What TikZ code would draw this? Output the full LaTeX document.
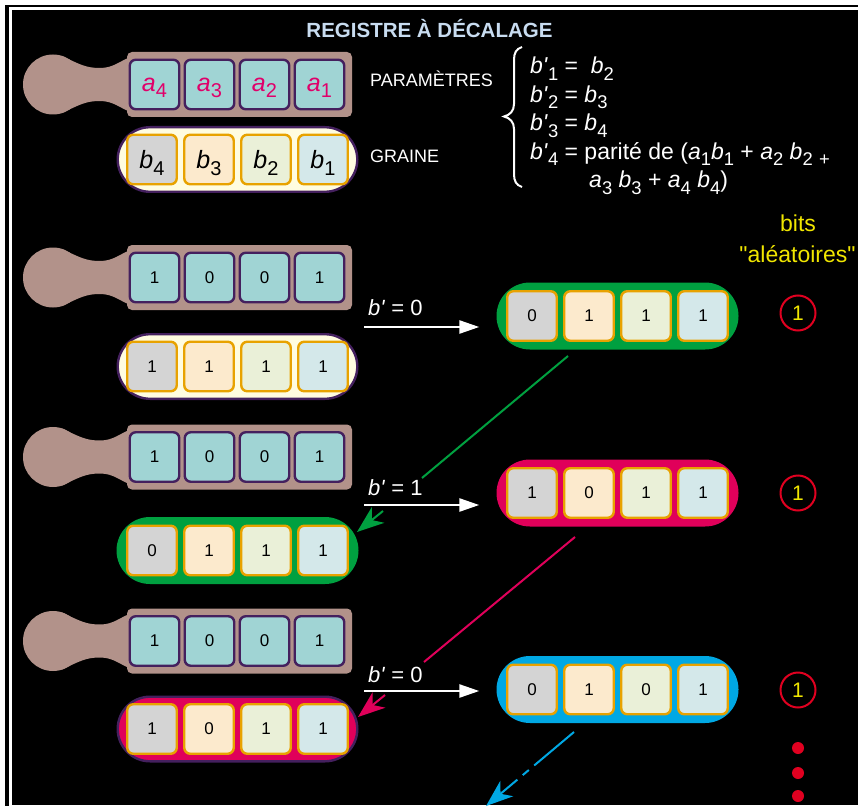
\documentclass[tikz,border=0pt]{standalone}
\usepackage{fontspec}
\newfontfamily\lsans{Liberation Sans}
\usetikzlibrary{arrows.meta}

\definecolor{dpurple}{HTML}{44205E}
\definecolor{tealc}{HTML}{A0D4D4}
\definecolor{brownp}{HTML}{B2928A}
\definecolor{cream}{HTML}{FFFCE0}
\definecolor{cgray}{HTML}{D4D4D4}
\definecolor{cpeach}{HTML}{FCEACD}
\definecolor{cgreen}{HTML}{EAF0D8}
\definecolor{cblue}{HTML}{D4E8EA}
\definecolor{orng}{HTML}{E8A200}
\definecolor{magen}{HTML}{E0006A}
\definecolor{pgreen}{HTML}{00A040}
\definecolor{pred}{HTML}{E0005A}
\definecolor{pblue}{HTML}{00A8E4}
\definecolor{ringred}{HTML}{E00020}
\definecolor{bityel}{HTML}{F0E600}
\definecolor{titleblue}{HTML}{C8DCF0}

\newcommand\fs[1]{\lsans\fontsize{#1}{#1}\selectfont}
% lowered, reduced index that does not change the box size
\newcommand\lo[1]{\smash{\raisebox{-0.27em}{\scalebox{0.8}{#1}}}}
\newcommand\parama[1]{{\fs{25}\color{magen}\textit{a}\lo{#1}}}
\newcommand\seedb[1]{{\fs{25}\textit{b}\lo{#1}}}

\tikzset{
  cellbase/.style={line width=2.4pt, rounded corners=6pt, minimum size=49.5pt,
    inner sep=0pt, font=\fs{17}},
  pcell/.style={cellbase, draw=dpurple, fill=tealc},
  scell/.style={cellbase, draw=orng},
  body/.style={fill=brownp, rounded corners=5pt, minimum width=225pt,
    minimum height=65pt, inner sep=0pt},
  pill/.style={rounded corners=33.5pt, minimum width=242pt, minimum height=67pt,
    inner sep=0pt},
  ringpill/.style={draw=dpurple, line width=2.4pt, rounded corners=32.3pt,
    minimum width=239.6pt, minimum height=64.6pt, inner sep=0pt},
  sidelabel/.style={text=white, font=\fs{18}, anchor=base west, inner sep=0pt},
  eqline/.style={text=white, font=\fs{23}, anchor=base west, inner sep=0pt},
  blabel/.style={text=white, font=\fs{22}, anchor=base west, inner sep=0pt},
  bittext/.style={text=bityel, font=\fs{23}, anchor=base, inner sep=0pt},
  ring/.style={circle, draw=ringred, line width=2pt, minimum size=35pt,
    inner sep=0pt, text=bityel, font=\fs{21}},
  dot/.style={circle, fill=ringred, minimum size=12pt, inner sep=0pt},
  warrow/.style={draw=white, line width=2.5pt,
    -{Triangle[length=20pt,width=13pt]}, shorten >=17pt},
  feedback/.style={line width=2pt},
  feedtip/.style={line width=2pt, -{Stealth[length=27pt,width=20pt,inset=8pt]}},
}

% parameter register: handle + body + four cells
\newcommand\paddle[6]{%
  \begin{scope}[shift={(0,#2)}]
    \fill[brownp] (53,0) circle (30pt);
    \fill[brownp] (62,-28.5) .. controls (80,-20) and (86,-16.5) .. (100,-16.5)
      .. controls (114,-16.5) and (120,-24) .. (132,-28) -- (132,28)
      .. controls (120,24) and (114,16.5) .. (100,16.5)
      .. controls (86,16.5) and (80,20) .. (62,28.5) -- cycle;
    \node[body] (#1) at (239.5,0) {};
    \node[pcell] (#1-1) at (154.5,0) {#3};
    \node[pcell] (#1-2) at (209.5,0) {#4};
    \node[pcell] (#1-3) at (264.5,0) {#5};
    \node[pcell] (#1-4) at (319.5,0) {#6};
  \end{scope}}

% state register: rounded capsule + four cells
\newcommand\register[7]{%
  \begin{scope}[shift={#2}]
    \node[#3] (#1) at (0,0) {};
    \node[scell, fill=cgray]  (#1-1) at (-85.5,0) {#4};
    \node[scell, fill=cpeach] (#1-2) at (-28.5,0) {#5};
    \node[scell, fill=cgreen] (#1-3) at (28.5,0) {#6};
    \node[scell, fill=cblue]  (#1-4) at (85.5,0) {#7};
  \end{scope}}

\begin{document}
\begin{tikzpicture}[x=1pt,y=-1pt]
\useasboundingbox (0,0) rectangle (858,810);
% frame
\fill[white] (0,0) rectangle (858,810);
\fill[black] (5,5) rectangle (858,806);
\draw[white, line width=3pt] (10.5,8.3) rectangle (880,806.5);

\node[font=\bfseries\fs{20.5}, text=titleblue] (title) at (429.5,29) {REGISTRE À DÉCALAGE};

% definitions
\paddle{p1}{84.5}{\parama4}{\parama3}{\parama2}{\parama1}
\register{s1}{(237.5,159.5)}{ringpill, fill=cream}{\seedb4}{\seedb3}{\seedb2}{\seedb1}
\node[sidelabel] (lpar) at (370,87) {PARAMÈTRES};
\node[sidelabel] (lgr) at (370,163) {GRAINE};

\draw[white, line width=2pt] (522,47) .. controls (516,49) and (514,53) .. (514,60) -- (514,104)
  .. controls (514,111) and (510,115) .. (504,116.5)
  .. controls (510,118) and (514,122) .. (514,129) -- (514,174)
  .. controls (514,181) and (516,185) .. (522,187);
\node[eqline] (eq1) at (530,74) {\textit{b'}\lo{1} = \ \textit{b}\lo{2}};
\node[eqline] (eq2) at (530,102.5) {\textit{b'}\lo{2} = \textit{b}\lo{3}};
\node[eqline] (eq3) at (530,131) {\textit{b'}\lo{3} = \textit{b}\lo{4}};
\node[eqline] (eq4) at (530,159.5) {\textit{b'}\lo{4} = parité de (\textit{a}\lo{1}\textit{b}\lo{1} + \textit{a}\lo{2} \textit{b}\lo{2} \lo{+}};
\node[eqline] (eq5) at (589,188) {\textit{a}\lo{3} \textit{b}\lo{3} + \textit{a}\lo{4} \textit{b}\lo{4})};

\node[bittext] (bits) at (798,232) {bits};
\node[bittext] (alea) at (797.5,262) {"aléatoires"};

% step 1
\paddle{p2}{277.5}{1}{0}{0}{1}
\register{s2}{(237.5,366.5)}{ringpill, fill=cream}{1}{1}{1}{1}
\register{r1}{(617.5,316)}{pill, fill=pgreen}{0}{1}{1}{1}
\node[blabel] (l1) at (368,315) {\textit{b'} = 0};
\coordinate (w1) at (364,327);
\draw[warrow] (w1) -- (w1 -| r1.west);
\node[ring] (c1) at (798,313) {1};

% step 2
\paddle{p3}{457}{1}{0}{0}{1}
\register{s3}{(237.5,550.5)}{pill, fill=pgreen}{0}{1}{1}{1}
\register{r2}{(617.5,493)}{pill, fill=pred}{1}{0}{1}{1}
\node[blabel] (l2) at (368,495) {\textit{b'} = 1};
\coordinate (w2) at (364,505);
\draw[warrow] (w2) -- (w2 -| r2.west);
\node[ring] (c2) at (798,493) {1};

% step 3
\paddle{p4}{641}{1}{0}{0}{1}
\register{s4}{(237.5,729)}{ringpill, fill=pred}{1}{0}{1}{1}
\register{r3}{(617.5,689.5)}{pill, fill=pblue}{0}{1}{0}{1}
\node[blabel] (l3) at (368,682) {\textit{b'} = 0};
\coordinate (w3) at (364,691);
\draw[warrow] (w3) -- (w3 -| r3.west);
\node[ring] (c3) at (798,690) {1};

% feedback: each new state becomes the next seed
\coordinate (ga) at (568,356);
\coordinate (gb) at (422,478);
\coordinate (gc) at (383,511);
\coordinate (gt) at (357,532);
\draw[feedback, pgreen] (ga) -- (gb);
\draw[feedtip, pgreen] (gc) -- (gt);

\coordinate (ra) at (575,537);
\coordinate (rb) at (424,662);
\coordinate (rc) at (385,695);
\coordinate (rt) at (358,717);
\draw[feedback, pred] (ra) -- (rb);
\draw[feedtip, pred] (rc) -- (rt);

\coordinate (ba) at (574,732);
\coordinate (bt) at (486,806);
\draw[feedtip, pblue, dash pattern=on 52pt off 7pt on 8pt off 7pt] (ba) -- (bt);

\node[dot] (d1) at (798,748) {};
\node[dot] (d2) at (798,773) {};
\node[dot] (d3) at (798,796) {};
\end{tikzpicture}
\end{document}
